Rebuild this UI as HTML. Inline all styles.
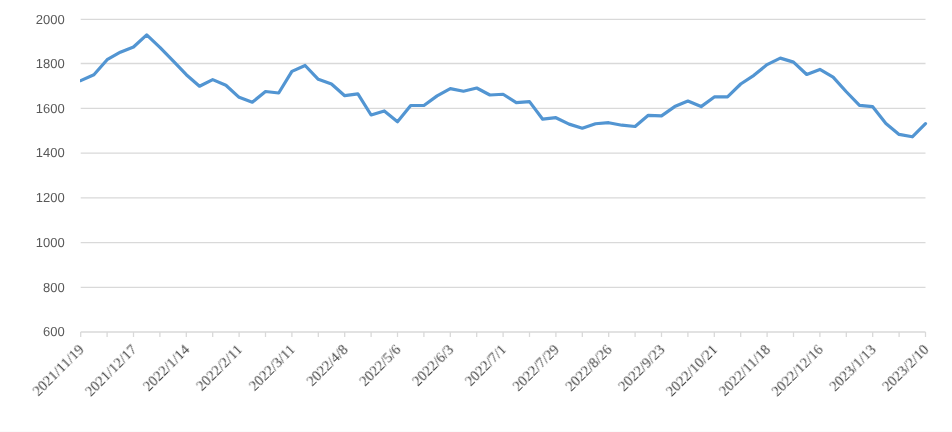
<!DOCTYPE html>
<html><head><meta charset="utf-8"><style>
html,body{margin:0;padding:0;background:#fff;}
body{width:952px;height:432px;overflow:hidden;}
svg{display:block;}
text{will-change:transform;text-rendering:geometricPrecision;}
</style></head><body>
<svg width="952" height="432" viewBox="0 0 952 432">
<rect width="952" height="432" fill="#fff"/><rect x="0" y="431" width="952" height="1" fill="#fbfbfb"/>
<g stroke="#d9d9d9" stroke-width="1.3" fill="none"><line x1="80.7" y1="19.40" x2="925.5" y2="19.40"/><line x1="80.7" y1="63.50" x2="925.5" y2="63.50"/><line x1="80.7" y1="108.30" x2="925.5" y2="108.30"/><line x1="80.7" y1="153.10" x2="925.5" y2="153.10"/><line x1="80.7" y1="197.90" x2="925.5" y2="197.90"/><line x1="80.7" y1="242.70" x2="925.5" y2="242.70"/><line x1="80.7" y1="287.40" x2="925.5" y2="287.40"/><line x1="80.7" y1="332.0" x2="925.5" y2="332.0"/><line x1="80.70" y1="332.0" x2="80.70" y2="337.0"/><line x1="107.10" y1="332.0" x2="107.10" y2="337.0"/><line x1="133.50" y1="332.0" x2="133.50" y2="337.0"/><line x1="159.90" y1="332.0" x2="159.90" y2="337.0"/><line x1="186.30" y1="332.0" x2="186.30" y2="337.0"/><line x1="212.70" y1="332.0" x2="212.70" y2="337.0"/><line x1="239.10" y1="332.0" x2="239.10" y2="337.0"/><line x1="265.50" y1="332.0" x2="265.50" y2="337.0"/><line x1="291.90" y1="332.0" x2="291.90" y2="337.0"/><line x1="318.30" y1="332.0" x2="318.30" y2="337.0"/><line x1="344.70" y1="332.0" x2="344.70" y2="337.0"/><line x1="371.10" y1="332.0" x2="371.10" y2="337.0"/><line x1="397.50" y1="332.0" x2="397.50" y2="337.0"/><line x1="423.90" y1="332.0" x2="423.90" y2="337.0"/><line x1="450.30" y1="332.0" x2="450.30" y2="337.0"/><line x1="476.70" y1="332.0" x2="476.70" y2="337.0"/><line x1="503.10" y1="332.0" x2="503.10" y2="337.0"/><line x1="529.50" y1="332.0" x2="529.50" y2="337.0"/><line x1="555.90" y1="332.0" x2="555.90" y2="337.0"/><line x1="582.30" y1="332.0" x2="582.30" y2="337.0"/><line x1="608.70" y1="332.0" x2="608.70" y2="337.0"/><line x1="635.10" y1="332.0" x2="635.10" y2="337.0"/><line x1="661.50" y1="332.0" x2="661.50" y2="337.0"/><line x1="687.90" y1="332.0" x2="687.90" y2="337.0"/><line x1="714.30" y1="332.0" x2="714.30" y2="337.0"/><line x1="740.70" y1="332.0" x2="740.70" y2="337.0"/><line x1="767.10" y1="332.0" x2="767.10" y2="337.0"/><line x1="793.50" y1="332.0" x2="793.50" y2="337.0"/><line x1="819.90" y1="332.0" x2="819.90" y2="337.0"/><line x1="846.30" y1="332.0" x2="846.30" y2="337.0"/><line x1="872.70" y1="332.0" x2="872.70" y2="337.0"/><line x1="899.10" y1="332.0" x2="899.10" y2="337.0"/><line x1="925.50" y1="332.0" x2="925.50" y2="337.0"/></g>
<g font-family="Liberation Sans, sans-serif" font-size="13" fill="#595959" text-anchor="end"><text x="64.7" y="23.75">2000</text><text x="64.7" y="67.85">1800</text><text x="64.7" y="112.65">1600</text><text x="64.7" y="157.45">1400</text><text x="64.7" y="202.25">1200</text><text x="64.7" y="247.05">1000</text><text x="64.7" y="291.75">800</text><text x="64.7" y="336.35">600</text></g>
<g font-family="Liberation Serif, serif" font-size="14.5" fill="#464646" text-anchor="end"><text transform="translate(84.70,350.40) rotate(-45) scale(1,1.0)">2021/11/19</text><text transform="translate(137.50,350.40) rotate(-45) scale(1,1.0)">2021/12/17</text><text transform="translate(190.30,350.40) rotate(-45) scale(1,1.0)">2022/1/14</text><text transform="translate(243.10,350.40) rotate(-45) scale(1,1.0)">2022/2/11</text><text transform="translate(295.90,350.40) rotate(-45) scale(1,1.0)">2022/3/11</text><text transform="translate(348.70,350.40) rotate(-45) scale(1,1.0)">2022/4/8</text><text transform="translate(401.50,350.40) rotate(-45) scale(1,1.0)">2022/5/6</text><text transform="translate(454.30,350.40) rotate(-45) scale(1,1.0)">2022/6/3</text><text transform="translate(507.10,350.40) rotate(-45) scale(1,1.0)">2022/7/1</text><text transform="translate(559.90,350.40) rotate(-45) scale(1,1.0)">2022/7/29</text><text transform="translate(612.70,350.40) rotate(-45) scale(1,1.0)">2022/8/26</text><text transform="translate(665.50,350.40) rotate(-45) scale(1,1.0)">2022/9/23</text><text transform="translate(718.30,350.40) rotate(-45) scale(1,1.0)">2022/10/21</text><text transform="translate(771.10,350.40) rotate(-45) scale(1,1.0)">2022/11/18</text><text transform="translate(823.90,350.40) rotate(-45) scale(1,1.0)">2022/12/16</text><text transform="translate(876.70,350.40) rotate(-45) scale(1,1.0)">2023/1/13</text><text transform="translate(929.50,350.40) rotate(-45) scale(1,1.0)">2023/2/10</text></g>
<defs><clipPath id="pc"><rect x="80.1" y="0" width="860" height="432"/></clipPath></defs><polyline clip-path="url(#pc)" points="80.70,80.60 93.90,74.70 107.10,59.70 120.30,52.20 133.50,47.00 146.70,34.90 159.90,47.30 173.10,60.90 186.30,74.70 199.50,86.20 212.70,79.60 225.90,85.20 239.10,97.35 252.30,102.20 265.50,91.50 278.70,93.00 291.90,71.40 305.10,65.50 318.30,79.30 331.50,84.00 344.70,95.70 357.90,93.80 371.10,115.00 384.30,110.95 397.50,121.70 410.70,105.50 423.90,105.50 437.10,95.90 450.30,88.60 463.50,91.25 476.70,88.00 489.90,95.00 503.10,94.25 516.30,102.60 529.50,101.60 542.70,119.20 555.90,117.70 569.10,124.10 582.30,128.20 595.50,123.75 608.70,122.70 621.90,125.20 635.10,126.50 648.30,115.30 661.50,115.90 674.70,106.60 687.90,101.10 701.10,106.60 714.30,96.95 727.50,96.80 740.70,84.00 753.90,75.30 767.10,64.60 780.30,58.10 793.50,62.15 806.70,74.50 819.90,69.40 833.10,77.10 846.30,91.75 859.50,105.40 872.70,106.70 885.90,123.40 899.10,134.40 912.30,136.80 925.50,123.60" fill="none" stroke="#5295d2" stroke-width="3.2" stroke-linejoin="round" stroke-linecap="round"/>
</svg>
</body></html>
